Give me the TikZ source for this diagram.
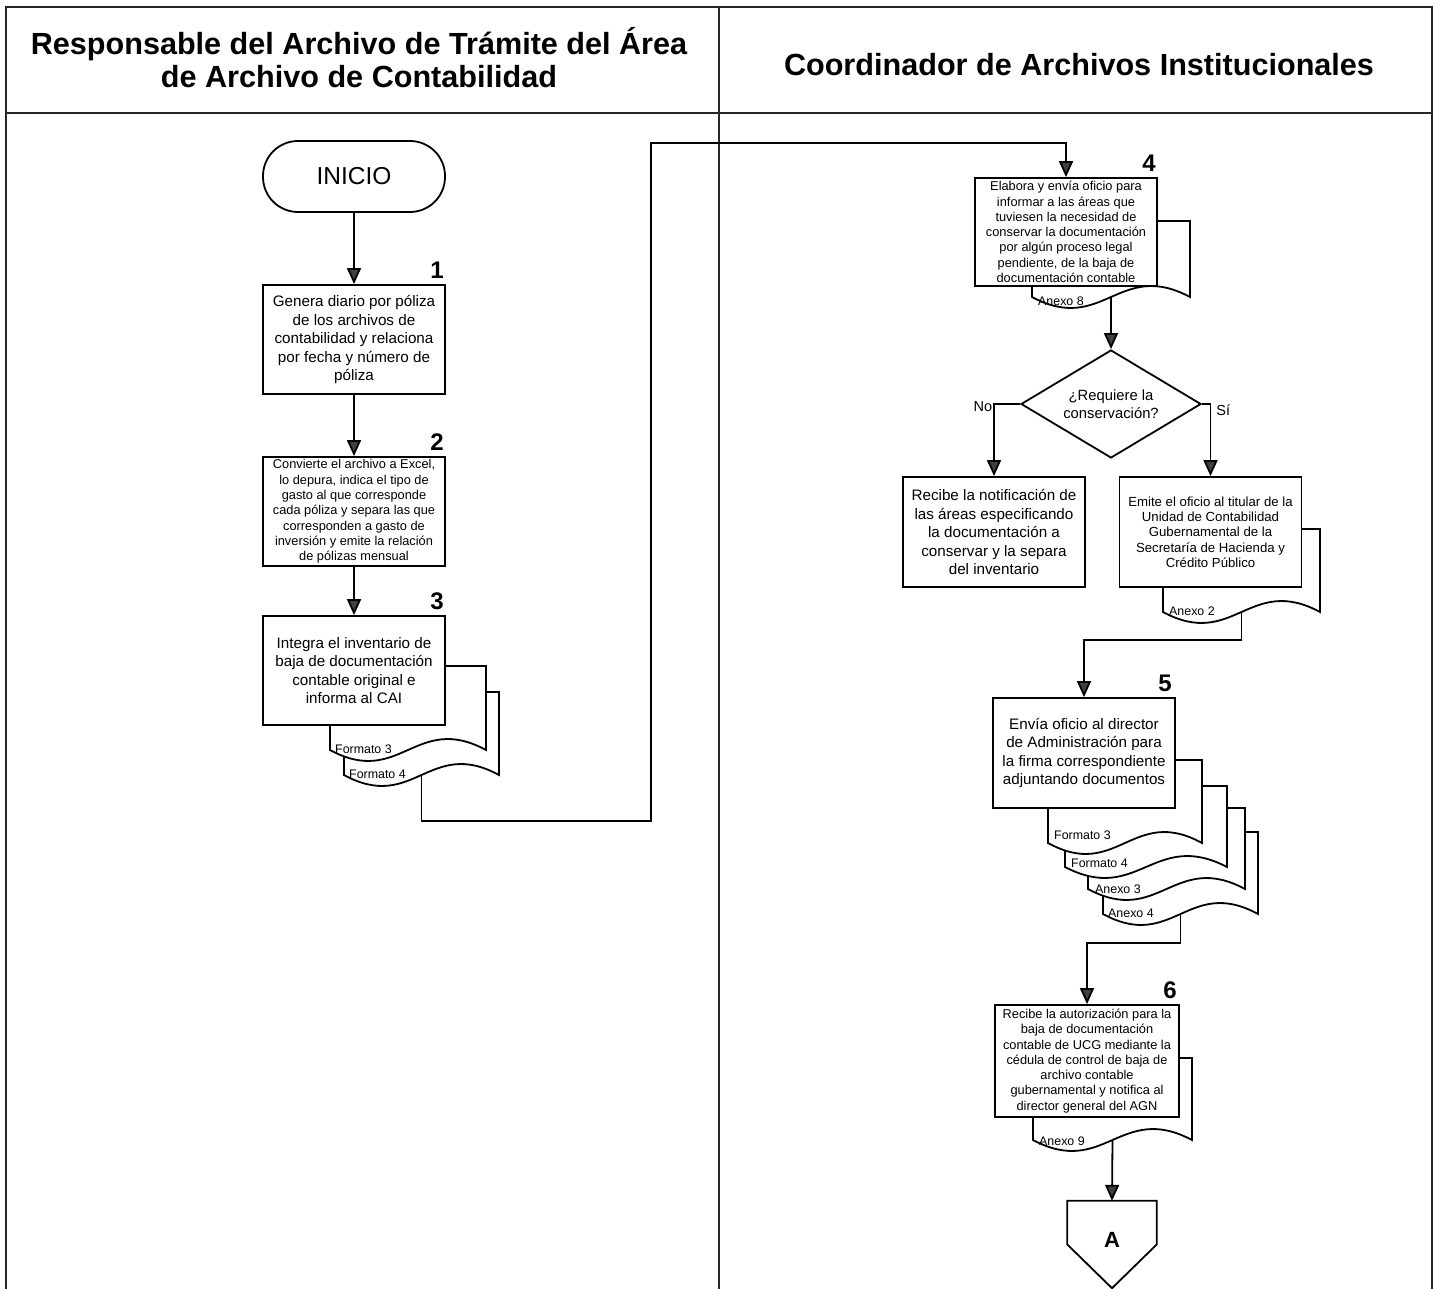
\documentclass[tikz,border=0pt]{standalone}
\usepackage{fontspec}
\setmainfont{Liberation Sans}
\usetikzlibrary{arrows.meta,shapes.geometric}

% wavy-bottom document sheet: left, top, right, bottom
\newcommand\docsheet[4]{%
  \filldraw[sheet] (#1,#4) -- (#1,#2) -- (#3,#2) -- (#3,#4)
    .. controls ({#1+0.55*(#3-#1)},{#4-38}) and ({#1+0.45*(#3-#1)},{#4+38}) .. (#1,#4) -- cycle;}

\tikzset{
  frame/.style={line width=2.6pt, black!85},
  sheet/.style={line width=1.8pt, fill=white, draw=black},
  stepbox/.style={draw, line width=1.8pt, fill=white, minimum width=182pt,
    minimum height=109pt, inner sep=0pt, align=center},
  bigtxt/.style={font=\fontsize{15.2}{18.5}\selectfont},
  smalltxt/.style={font=\fontsize{12.8}{15.3}\selectfont},
  stepnum/.style={anchor=south east, inner sep=0pt, font=\fontsize{24}{24}\selectfont\bfseries},
  doclabel/.style={anchor=west, inner sep=0pt, font=\fontsize{12.4}{12.4}\selectfont},
  flow/.style={line width=1.8pt, -{Triangle[width=14pt,length=16pt,fill=black!75]}},
  branch/.style={inner sep=0pt, font=\fontsize{14.5}{14.5}\selectfont},
  title/.style={align=center, inner sep=0pt, font=\fontsize{30.6}{33}\selectfont\bfseries}
}

\begin{document}
\begin{tikzpicture}[x=1pt,y=-1pt]
\useasboundingbox (0,0) rectangle (1435,1289);

% swimlane frame
\draw[frame] (6,1295) -- (6,7) -- (1432,7) -- (1432,1295);
\draw[frame] (6,113) -- (1432,113);
\draw[frame] (719,7) -- (719,1295);

\node[title] (laneA) at (359,58) {Responsable del Archivo de Trámite del Área\\de Archivo de Contabilidad};
\node[title] (laneB) at (1079,65) {Coordinador de Archivos Institucionales};

% ---------------- left lane ----------------
\node[draw, line width=1.8pt, rounded corners=35pt, minimum width=182pt, minimum height=71pt,
      font=\fontsize{24.5}{24.5}\selectfont] (inicio) at (354,176.5) {INICIO};

\node[stepbox, bigtxt] (b1) at (354,339.5) {Genera diario por póliza\\de los archivos de\\contabilidad y relaciona\\por fecha y número de\\póliza};
\node[stepnum] (n1) at ([xshift=-2pt,yshift=5pt]b1.north east) {1};

\node[stepbox, smalltxt] (b2) at (354,511.5) {Convierte el archivo a Excel,\\lo depura, indica el tipo de\\gasto al que corresponde\\cada póliza y separa las que\\corresponden a gasto de\\inversión y emite la relación\\de pólizas mensual};
\node[stepnum] (n2) at ([xshift=-2pt,yshift=5pt]b2.north east) {2};

\docsheet{344}{692}{499}{775}
\coordinate (d3b) at (421.5,775);
\docsheet{330}{666}{486}{750}
\node[doclabel] (f3a) at (335,749) {Formato 3};
\node[doclabel] (f3b) at (349,774) {Formato 4};
\node[stepbox, bigtxt] (b3) at (354,670.5) {Integra el inventario de\\baja de documentación\\contable original e\\informa al CAI};
\node[stepnum] (n3) at ([xshift=-2pt,yshift=5pt]b3.north east) {3};

\draw[flow] (inicio) -- (b1);
\draw[flow] (b1) -- (b2);
\draw[flow] (b2) -- (b3);

% ---------------- right lane ----------------
\docsheet{1032}{221}{1190}{297}
\coordinate (d4) at (1111,297);
\node[doclabel] (a8) at (1038,301) {Anexo 8};
\node[stepbox, smalltxt, minimum height=108pt] (b4) at (1066,232) {Elabora y envía oficio para\\informar a las áreas que\\tuviesen la necesidad de\\conservar la documentación\\por algún proceso legal\\pendiente, de la baja de\\documentación contable};
\node[stepnum] (n4) at ([xshift=-2pt,yshift=5pt]b4.north east) {4};

\coordinate (j1) at (651,821);
\coordinate (j2) at (651,143);
\draw[flow] (d3b) |- (j1) -- (j2) -| (b4.north);

\node[draw, diamond, aspect=1.67, line width=1.8pt, minimum width=180pt, minimum height=108pt,
      inner sep=0pt, align=center, font=\fontsize{14.8}{18.5}\selectfont] (q) at (1111,404)
      {¿Requiere la\\conservación?};
\draw[flow] (d4) -- (q.north);

\node[stepbox, bigtxt, minimum height=110pt] (rec) at (994,532) {Recibe la notificación de\\las áreas especificando\\la documentación a\\conservar y la separa\\del inventario};

\docsheet{1163}{529}{1320}{612}
\coordinate (e2) at (1241.5,612);
\node[doclabel] (a2) at (1169,611) {Anexo 2};
\node[stepbox, font=\fontsize{13.2}{15.3}\selectfont, minimum height=110pt] (emi) at (1210.5,532)
  {Emite el oficio al titular de la\\Unidad de Contabilidad\\Gubernamental de la\\Secretaría de Hacienda y\\Crédito Público};

\draw[flow] (q.west) -| (rec.north) node[branch, pos=0.5, anchor=east, xshift=-1pt, yshift=-3pt] (no) {No};
\draw[flow] (q.east) -| (emi.north) node[branch, pos=0.5, anchor=west, xshift=5pt, yshift=-6pt] (si) {Sí};

% step 5 with four attached documents
\docsheet{1103}{832}{1258}{914}
\coordinate (d5) at (1180.5,914);
\docsheet{1088}{808}{1245}{889}
\docsheet{1065}{786}{1227}{867}
\docsheet{1048}{760}{1202}{843}
\node[doclabel] (f53) at (1054,835) {Formato 3};
\node[doclabel] (f54) at (1071,863) {Formato 4};
\node[doclabel] (a53) at (1095,889) {Anexo 3};
\node[doclabel] (a54) at (1108,913) {Anexo 4};
\node[stepbox, bigtxt, minimum height=110pt] (b5) at (1084,753) {Envía oficio al director\\de Administración para\\la firma correspondiente\\adjuntando documentos};
\node[stepnum] (n5) at ([xshift=-4pt,yshift=5pt]b5.north east) {5};

\draw[flow] (e2) -- ++(0,28) -| (b5.north);

% step 6
\docsheet{1033}{1058}{1192}{1140}
\coordinate (d6) at (1112.5,1140);
\node[doclabel] (a9) at (1039,1141) {Anexo 9};
\node[stepbox, smalltxt, minimum width=184pt, minimum height=112pt] (b6) at (1087,1061) {Recibe la autorización para la\\baja de documentación\\contable de UCG mediante la\\cédula de control de baja de\\archivo contable\\gubernamental y notifica al\\director general del AGN};
\node[stepnum] (n6) at ([xshift=-3pt,yshift=5pt]b6.north east) {6};

\draw[flow] (d5) -- ++(0,29) -| (b6.north);

% off-page connector
\node[minimum width=89pt, minimum height=87pt, inner sep=0pt] (offA) at (1112,1244.5) {};
\draw[line width=1.8pt, fill=white] (offA.north west) -- (offA.west) -- (offA.south) -- (offA.east) -- (offA.north east) -- cycle;
\node[inner sep=0pt, font=\fontsize{22}{22}\selectfont\bfseries] (offAtxt) at (1112,1240) {A};
\draw[flow] (d6) -- (offA.north);

\end{tikzpicture}
\end{document}
